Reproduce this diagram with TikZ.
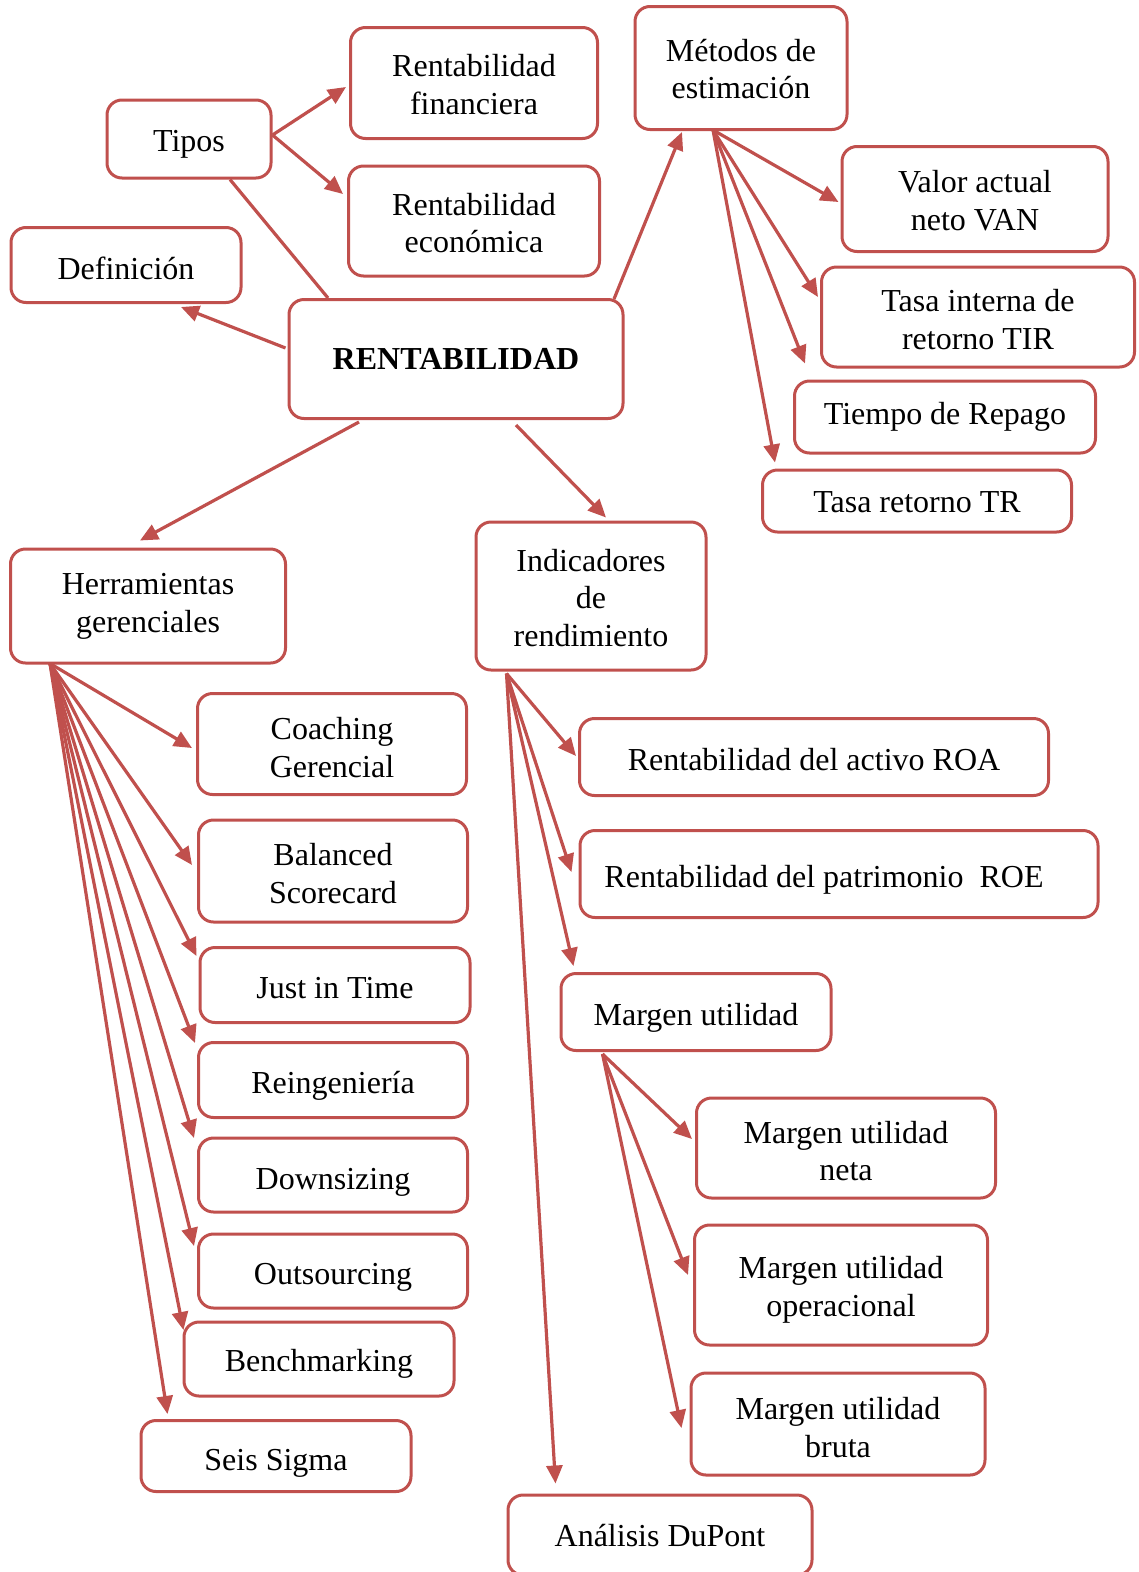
\documentclass[tikz,border=0pt]{standalone}
\usepackage{fontspec}
\setmainfont{Liberation Serif}
\usetikzlibrary{arrows.meta,calc}
\definecolor{bord}{RGB}{192,80,77}
\newcommand{\mybox}[8]{%
  \node[box, minimum width=#4, minimum height=#5] (#1) at (#2,#3) {};
  \node[txt] (#1-t) at ($(#1.center)+(#6,#7)$) {#8};}
\begin{document}
\begin{tikzpicture}[x=1pt,y=-1pt,
  box/.style={draw=bord, line width=3pt, rounded corners=15pt, inner sep=0pt, fill=white},
  txt/.style={align=center, inner sep=0pt, font=\fontsize{32}{37.5}\selectfont},
  arr/.style={draw=bord, line width=3.2pt, -{Triangle[length=18pt,width=16pt]}},
  ln/.style={draw=bord, line width=3.2pt}]
\useasboundingbox (0,0) rectangle (1139,1572);
% top area
\mybox{tipos}{189}{139}{164}{78}{0}{5}{Tipos}
\mybox{rf}{474}{83}{247}{111}{0}{1.5}{Rentabilidad\\financiera}
\mybox{re}{474}{221}{251}{110}{0}{2}{Rentabilidad\\económica}
\mybox{met}{741}{68}{212}{123}{0}{1}{Métodos de\\estimación}
\mybox{def}{126}{265}{230}{75}{0}{3}{Definición}
\node[box, minimum width=334, minimum height=119] (rent) at (456,359) {};
\node[txt, font=\fontsize{32}{37.5}\selectfont\bfseries] (rent-t) at (rent.center) {RENTABILIDAD};
\mybox{van}{975}{199}{266}{105}{0}{1.5}{Valor actual\\neto VAN}
\mybox{tir}{978}{317}{313}{100}{0}{2.5}{Tasa interna de\\retorno TIR}
\mybox{tiempo}{945}{417}{301}{72}{0}{0}{Tiempo de Repago}
\mybox{tr}{917}{501}{309}{62}{0}{1}{Tasa retorno TR}
% herramientas
\mybox{herr}{148}{606}{275}{114}{0}{0.5}{Herramientas\\gerenciales}
\mybox{coach}{332}{744}{269}{101}{0}{3.5}{Coaching\\Gerencial}
\mybox{bal}{333}{871}{269}{102}{0}{2.5}{Balanced\\Scorecard}
\mybox{jit}{335}{985}{270}{75}{0}{3}{Just in Time}
\mybox{reing}{333}{1080}{269}{75}{0}{6}{Reingeniería}
\mybox{down}{333}{1175}{269}{74}{0}{7}{Downsizing}
\mybox{out}{333}{1271}{269}{74}{0}{6}{Outsourcing}
\mybox{bench}{319}{1359}{270}{74}{0}{5}{Benchmarking}
\mybox{seis}{276}{1456}{270}{71}{0}{7}{Seis Sigma}
% indicadores
\mybox{ind}{591}{596}{230}{148}{0}{2}{Indicadores\\de\\rendimiento}
\mybox{roa}{814}{757}{469}{77}{0}{3}{Rentabilidad del activo ROA}
\mybox{roe}{839}{874}{518}{87}{-15}{6}{Rentabilidad del patrimonio~ ROE}
\mybox{marg}{696}{1012}{270}{77}{0}{6}{Margen utilidad}
\mybox{neta}{846}{1148}{299}{100}{0}{3}{Margen utilidad\\neta}
\mybox{oper}{841}{1285}{293}{120}{0}{5}{Margen utilidad\\operacional}
\mybox{bruta}{838}{1424}{294}{102}{0}{3.5}{Margen utilidad\\bruta}
\mybox{dup}{660}{1535}{304}{80}{0}{1}{Análisis DuPont}
% connectors
\draw[arr] ($(tipos.east)+(0,-4)$) -- ($(rf.west)+(-3,4)$);
\draw[arr] ($(tipos.east)+(0,-4)$) -- ($(re.west)+(-4,-27)$);
\draw[ln] ($(tipos.south)+(41,0)$) -- ($(rent.north)+(-128,0)$);
\draw[arr] ($(rent.west)+(-2,-11)$) -- ($(def.south)+(55,3)$);
\draw[arr] ($(rent.north)+(158,1)$) -- ($(met.south)+(-59,1)$);
\draw[arr] ($(met.south)+(-28,-1)$) -- ($(van.west)+(-2,3)$);
\draw[arr] ($(met.south)+(-28,-1)$) -- ($(tir.west)+(-2,-20)$);
\draw[arr] ($(met.south)+(-28,-1)$) -- ($(tiempo.north west)+(12,-16)$);
\draw[arr] ($(met.south)+(-28,-1)$) -- ($(tr.north west)+(14,-6)$);
\draw[arr] ($(rent.south)+(-97,2)$) -- ($(herr.north)+(-8,-7)$);
\draw[arr] ($(rent.south)+(60,5)$) -- ($(ind.north)+(15,-3)$);
\draw[arr] ($(herr.south west)+(41,-1)$) -- ($(coach.west)+(-4,4)$);
\draw[arr] ($(herr.south west)+(41,-1)$) -- ($(bal.west)+(-5,-6)$);
\draw[arr] ($(herr.south west)+(41,-1)$) -- ($(jit.west)+(-2,-29)$);
\draw[arr] ($(herr.south west)+(41,-1)$) -- ($(reing.west)+(-2,-37)$);
\draw[arr] ($(herr.south west)+(41,-1)$) -- ($(down.west)+(-3,-37)$);
\draw[arr] ($(herr.south west)+(41,-1)$) -- ($(out.west)+(-3,-25)$);
\draw[arr] ($(herr.south west)+(41,-1)$) -- ($(bench.west)+(1,-29)$);
\draw[arr] ($(herr.south west)+(41,-1)$) -- ($(seis.north west)+(28,-5)$);
\draw[arr] ($(ind.south west)+(32,2)$) -- ($(roa.west)+(-2,-1)$);
\draw[arr] ($(ind.south west)+(32,2)$) -- ($(roe.west)+(-7,-2)$);
\draw[arr] ($(ind.south west)+(32,2)$) -- ($(marg.north west)+(14,-6)$);
\draw[arr] ($(ind.south west)+(32,2)$) -- ($(dup.north west)+(49,-10)$);
\draw[arr] ($(marg.south west)+(43,2)$) -- ($(neta.west)+(-3,-9)$);
\draw[arr] ($(marg.south west)+(43,2)$) -- ($(oper.west)+(-5,-10)$);
\draw[arr] ($(marg.south west)+(43,2)$) -- ($(bruta.west)+(-8,4)$);
\end{tikzpicture}
\end{document}
